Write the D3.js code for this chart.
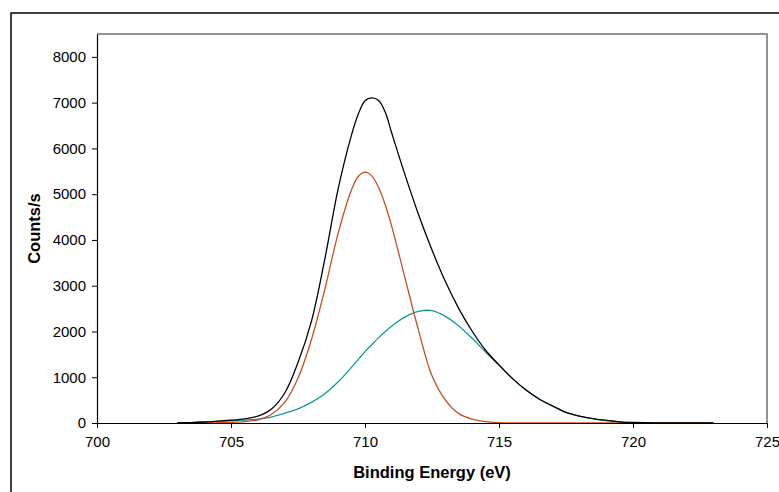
<!DOCTYPE html>
<html>
<head>
<meta charset="utf-8">
<script src="https://cdn.jsdelivr.net/npm/d3@7"></script>
<style>
  body { margin: 0; background: #fff; }
  svg { display: block; font-family: "Liberation Sans", Arial, sans-serif; }
</style>
</head>
<body>
<script>
const width = 779;
const height = 492;
const marginTop = 34;
const marginRight = 12;
const marginBottom = 69;
const marginLeft = 97;

// binding energy, eV
const energy = [
  703, 703.5, 704, 704.5, 705, 705.5, 706, 706.5, 707, 707.5,
  708, 708.5, 709, 709.5, 709.75, 710, 710.25, 710.5, 710.75, 711, 711.5, 712, 712.5,
  713, 713.5, 714, 714.5, 715, 715.5, 716, 716.5, 717, 717.5,
  718, 718.5, 719, 719.5, 720, 720.5, 721, 721.5, 722, 722.5, 723
];
// measured envelope
const total = [
  5, 10, 22, 40, 60, 90, 150, 300, 650, 1320,
  2220, 3580, 5120, 6300, 6750, 7040, 7105, 7050, 6800, 6330, 5410, 4550, 3780,
  3090, 2500, 2005, 1590, 1270, 975, 725, 525, 372, 232,
  152, 96, 56, 26, 11, 6, 4, 3, 2, 1, 0
];
// component 1
const peak1 = [
  0, 0, 2, 6, 15, 32, 70, 185, 450, 980,
  1820, 2920, 4150, 5100, 5385, 5480, 5400, 5155, 4775, 4290, 3150, 2020, 1030,
  500, 205, 85, 30, 10, 3, 0, 0, 0, 0,
  0, 0, 0, 0, 0, 0, 0, 0, 0, 0, 0
];
// component 2
const peak2 = [
  5, 10, 20, 35, 50, 65, 85, 130, 215, 310,
  450, 640, 900, 1220, 1390, 1560, 1710, 1860, 1995, 2120, 2320, 2440, 2455,
  2330, 2120, 1850, 1550, 1260, 970, 720, 520, 370, 230,
  150, 95, 55, 25, 10, 5, 3, 2, 2, 1, 0
];
const xTicks = [700, 705, 710, 715, 720, 725];
const yTicks = [0, 1000, 2000, 3000, 4000, 5000, 6000, 7000, 8000];

const x = d3.scaleLinear([700, 725], [marginLeft, width - marginRight]);
const y = d3.scaleLinear([0, 8500], [height - marginBottom, marginTop]);

const svg = d3
  .select("body")
  .append("svg")
  .attr("width", width)
  .attr("height", height);

// outer chart frame
svg
  .append("rect")
  .attr("x", 11)
  .attr("y", 13)
  .attr("width", 820)
  .attr("height", 520)
  .attr("fill", "none")
  .attr("stroke", "#000")
  .attr("stroke-width", 1.5);

// plot area border (top + right)
svg
  .append("path")
  .attr("d", `M${x(700)},${y(8500)}H${x(725)}V${y(0)}`)
  .attr("fill", "none")
  .attr("stroke", "#707070")
  .attr("stroke-width", 1.5);

const line = (vals) =>
  d3
    .line()
    .x((d, i) => x(energy[i]))
    .y((d) => y(d))
    .curve(d3.curveCatmullRom)(vals);

const series = [
  { vals: peak2, color: "#15989a" },
  { vals: peak1, color: "#c2501e" },
  { vals: total, color: "#000" },
];

svg
  .append("g")
  .selectAll("path")
  .data(series)
  .join("path")
  .attr("d", (d) => line(d.vals))
  .attr("fill", "none")
  .attr("stroke", (d) => d.color)
  .attr("stroke-width", 1.3);

const xAxis = svg
  .append("g")
  .attr("transform", `translate(0,${y(0)})`)
  .call(d3.axisBottom(x).tickValues(xTicks).tickFormat(d3.format("d")).tickSize(5).tickSizeOuter(0).tickPadding(8));

const yAxis = svg
  .append("g")
  .attr("transform", `translate(${marginLeft},0)`)
  .call(d3.axisLeft(y).tickValues(yTicks).tickFormat(d3.format("d")).tickSize(5).tickSizeOuter(0).tickPadding(6));

[xAxis, yAxis].forEach((g) => {
  g.select(".domain").attr("stroke", "#000").attr("stroke-width", 1.2);
  g.selectAll(".tick line").attr("stroke", "#000");
  g.selectAll(".tick text")
    .attr("font-family", "Liberation Sans, Arial, sans-serif")
    .attr("font-size", 15)
    .attr("fill", "#000");
});

svg
  .append("text")
  .attr("x", (x(700) + x(725)) / 2)
  .attr("y", 478)
  .attr("text-anchor", "middle")
  .attr("font-size", 16.5)
  .attr("font-weight", "bold")
  .text("Binding Energy (eV)");

svg
  .append("text")
  .attr("transform", `translate(40,${(y(0) + y(8500)) / 2}) rotate(-90)`)
  .attr("text-anchor", "middle")
  .attr("font-size", 16.5)
  .attr("font-weight", "bold")
  .text("Counts/s");
</script>
</body>
</html>
